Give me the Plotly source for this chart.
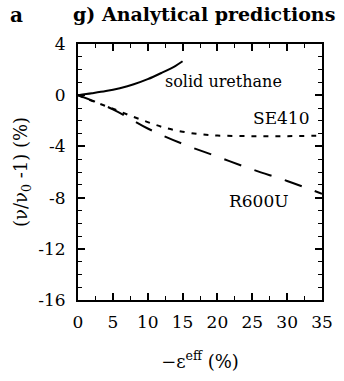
import plotly.graph_objects as go

# Analytical predictions of relative velocity change vs. effective strain
strain_urethane = [0, 2, 4, 6, 8, 10, 12, 14, 15]
dv_urethane = [0, 0.15, 0.32, 0.55, 0.85, 1.25, 1.75, 2.3, 2.65]

strain_se410 = [0, 2.5, 5, 7.5, 10, 12.5, 15, 17.5, 20, 25, 30, 35]
dv_se410 = [0, -0.55, -1.05, -1.6, -2.1, -2.55, -2.85, -3.05, -3.15, -3.2, -3.2, -3.15]

strain_r600u = [0, 5, 10, 15, 20, 25, 30, 35]
dv_r600u = [0, -1.1, -2.6, -3.8, -4.8, -5.8, -6.7, -7.7]

x_ticks = [0, 5, 10, 15, 20, 25, 30, 35]
y_ticks = [4, 0, -4, -8, -12, -16]
y_tick_labels = ["4", "0", "-4", "-8", "-12", "-16"]

FONT = "DejaVu Serif"

fig = go.Figure()
fig.add_trace(go.Scatter(x=strain_urethane, y=dv_urethane, mode="lines",
                         line=dict(color="black", width=2, shape="spline"),
                         name="solid urethane"))
fig.add_trace(go.Scatter(x=strain_se410, y=dv_se410, mode="lines",
                         line=dict(color="black", width=2, dash="5px,7px", shape="spline"),
                         name="SE410"))
fig.add_trace(go.Scatter(x=strain_r600u, y=dv_r600u, mode="lines",
                         line=dict(color="black", width=2, dash="18px,14px", shape="spline"),
                         name="R600U"))

axis_common = dict(showline=True, linecolor="black", linewidth=2, mirror="ticks",
                   ticks="inside", ticklen=7, tickwidth=1.5, tickcolor="black",
                   showgrid=False, zeroline=False,
                   tickfont=dict(family=FONT, size=17, color="black"))

fig.update_xaxes(range=[0, 35], tickvals=x_ticks, ticklabelstandoff=6,
                 minor=dict(dtick=2.5, ticks="inside", ticklen=4, tickcolor="black", tickwidth=1.2),
                 title=dict(text="−ε<sup>eff</sup> (%)", font=dict(family=FONT, size=18, color="black"),
                            standoff=24),
                 **axis_common)
fig.update_yaxes(range=[-16, 4], tickvals=y_ticks, ticktext=y_tick_labels, ticklabelstandoff=7,
                 minor=dict(dtick=1, ticks="inside", ticklen=4, tickcolor="black", tickwidth=1.2),
                 title=dict(text="(ν/ν<sub>0</sub> -1) (%)", font=dict(family=FONT, size=18, color="black"),
                            standoff=6),
                 **axis_common)

fig.add_annotation(x=20.8, y=1.1, text="solid urethane", showarrow=False,
                   font=dict(family=FONT, size=16, color="black"))
fig.add_annotation(x=33.6, y=-1.8, text="SE410", showarrow=False, xanchor="right",
                   font=dict(family=FONT, size=17, color="black"))
fig.add_annotation(x=30.5, y=-8.3, text="R600U", showarrow=False, xanchor="right",
                   font=dict(family=FONT, size=17, color="black"))

fig.add_annotation(x=0.0, y=1.0, xref="paper", yref="paper", xanchor="left", yanchor="top",
                   text="<b>a</b>", showarrow=False, xshift=-70, yshift=43,
                   font=dict(family=FONT, size=20, color="black"))
fig.add_annotation(x=0.5, y=1.0, xref="paper", yref="paper", xanchor="center", yanchor="top",
                   text="<b>g) Analytical predictions</b>", showarrow=False, yshift=43, xshift=4,
                   font=dict(family=FONT, size=19, color="black"))

fig.update_layout(width=344, height=381, margin=dict(l=78, r=22, t=44, b=81),
                  plot_bgcolor="white", paper_bgcolor="white", showlegend=False)

fig.write_html("out.html")
